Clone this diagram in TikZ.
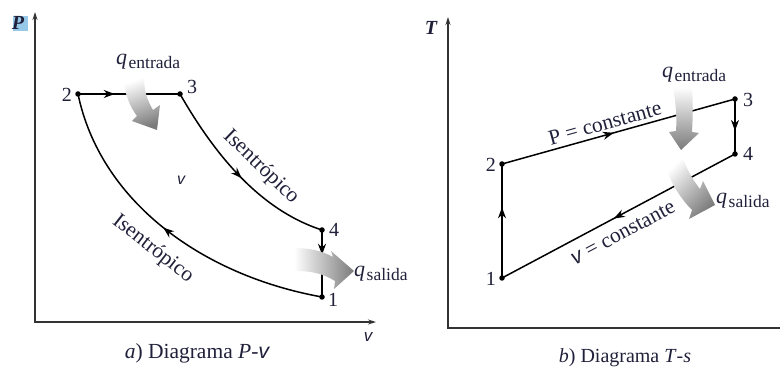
\documentclass[tikz,border=0pt]{standalone}
\usepackage{fontspec}
\setmainfont{Liberation Serif}
\newfontfamily\vsans{Liberation Sans}
\usetikzlibrary{arrows.meta,decorations.markings}
\definecolor{txt}{RGB}{32,32,58}
\definecolor{pbox}{RGB}{150,200,232}
\tikzset{
  dot/.style={circle,fill=black,inner sep=0pt,minimum size=5.5pt},
  lab/.style={text=txt,font=\fontsize{20}{20}\selectfont,inner sep=0pt},
  big/.style={text=txt,font=\fontsize{21.5}{21.5}\selectfont,inner sep=0pt},
  cyc/.style={line width=1.5pt,black},
  axisline/.style={line width=1.1pt,black!80},
  midarrow/.style={postaction={decorate},decoration={markings,mark=at position #1 with {\arrow{Stealth[length=11pt,width=8pt]}}}},
  heat/.style={top color=white,bottom color=black!52,draw=none},
}
\newcommand\qlab[1]{{\fontsize{22}{22}\selectfont\itshape q}\kern1.5pt\raisebox{-4pt}{\fontsize{17.5}{17.5}\selectfont #1}}
\newcommand\vv{{\vsans\itshape v}}
\begin{document}
\begin{tikzpicture}[x=1pt,y=-1pt]
\useasboundingbox (0,0) rectangle (780,371);
% ---------------- left: P-v ----------------
\coordinate (oL) at (35,322);
\coordinate (yL) at (35,12);
\coordinate (xL) at (376,322);
\draw[axisline,{Stealth[length=8pt,width=5pt]}-{Stealth[length=8pt,width=5pt]}] (yL) -- (oL) -- (xL);
\fill[pbox] (13,16) rectangle (28,31);
\node[text=txt,font=\bfseries\itshape\fontsize{20}{20}\selectfont,inner sep=0pt] (Plab) at (18,23) {P};
\node[lab,font=\vsans\itshape\fontsize{17}{17}\selectfont] (vLab) at (368,337) {v};
\node[big] (capA) at (197,353) {\textit{a}) Diagrama \textit{P}-\vv};

\node[dot] (a1) at (322,297) {};
\node[dot] (a2) at (78,94) {};
\node[dot] (a3) at (180,94) {};
\node[dot] (a4) at (322,230) {};
\node[lab,anchor=east] (n2) at (72,95) {2};
\node[lab] (n3) at (192,87) {3};
\node[lab] (n4) at (334,230) {4};
\node[lab] (n1) at (333,300) {1};

\draw[cyc,midarrow=0.36] (a2.center) -- (a3.center);
\draw[cyc,midarrow=0.52] (a3.center) .. controls (215,155) and (260,210) .. (a4.center);
\draw[cyc,midarrow=0.37] (a4.center) -- (a1.center);
\draw[cyc,midarrow=0.52] (a1.center) .. controls (200,275) and (100,200) .. (a2.center);

\node[big,rotate=-44] (isA) at (261,167) {Isentrópico};
\node[big,rotate=-38] (isB) at (153,249) {Isentrópico};
\node[lab,font=\vsans\itshape\fontsize{16}{16}\selectfont] (vMid) at (181,180) {v};

\shade[heat,shading angle=20] (123,77) .. controls (125,95) and (130,107) .. (137,116) -- (132,121) -- (157,130) -- (160,105) -- (153,110) .. controls (147,100) and (144,90) .. (144,77) -- cycle;
\shade[heat,shading angle=90] (294,248) .. controls (310,248) and (322,251) .. (333,257) -- (331,251) -- (354,271) -- (334,289) -- (335,281) .. controls (322,273) and (310,271) .. (295,271) -- cycle;
\node[lab,anchor=base west] (qinA) at (116,65) {\qlab{entrada}};
\node[lab,anchor=base west] (qoutA) at (354,277) {\qlab{salida}};

% ---------------- right: T-s ----------------
\coordinate (oR) at (448,328);
\coordinate (yR) at (448,17);
\coordinate (xR) at (780,328);
\draw[axisline,{Stealth[length=8pt,width=5pt]}-] (yR) -- (oR) -- (xR);
\node[text=txt,font=\bfseries\itshape\fontsize{20}{20}\selectfont,inner sep=0pt] (Tlab) at (431,28) {T};
\node[lab] (capB) at (625,358) {\textit{b}) Diagrama \textit{T}-\textit{s}};

\node[dot] (b1) at (502,278) {};
\node[dot] (b2) at (502,164) {};
\node[dot] (b3) at (735,99) {};
\node[dot] (b4) at (735,154) {};
\node[lab,anchor=east] (m2) at (496,165) {2};
\node[lab,anchor=east] (m1) at (496,279) {1};
\node[lab] (m3) at (748,100) {3};
\node[lab] (m4) at (748,154) {4};

\draw[cyc,midarrow=0.48] (b2.center) -- (b3.center);
\draw[cyc,midarrow=0.58] (b3.center) -- (b4.center);
\draw[cyc,midarrow=0.52] (b4.center) -- (b1.center);
\draw[cyc,midarrow=0.62] (b1.center) -- (b2.center);

\node[big,rotate=15.6] (pc) at (605,123) {P = constante};
\node[big,rotate=28] (vc) at (623,233) {\vv{} = constante};

\shade[heat,shading angle=0] (673,87) .. controls (676,105) and (677,118) .. (676,131) -- (669,132) -- (681,150) -- (699,133) -- (692,132) .. controls (693,115) and (693,100) .. (692,87) -- cycle;
\shade[heat,shading angle=45] (663,161) .. controls (671,184) and (681,199) .. (692,210) -- (689,219) -- (715,205) -- (703,181) -- (700,189) .. controls (692,179) and (687,169) .. (683,159) -- cycle;
\node[lab,anchor=base west] (qinB) at (662,78) {\qlab{entrada}};
\node[lab,anchor=base west] (qoutB) at (716,204) {\qlab{salida}};
\end{tikzpicture}
\end{document}
